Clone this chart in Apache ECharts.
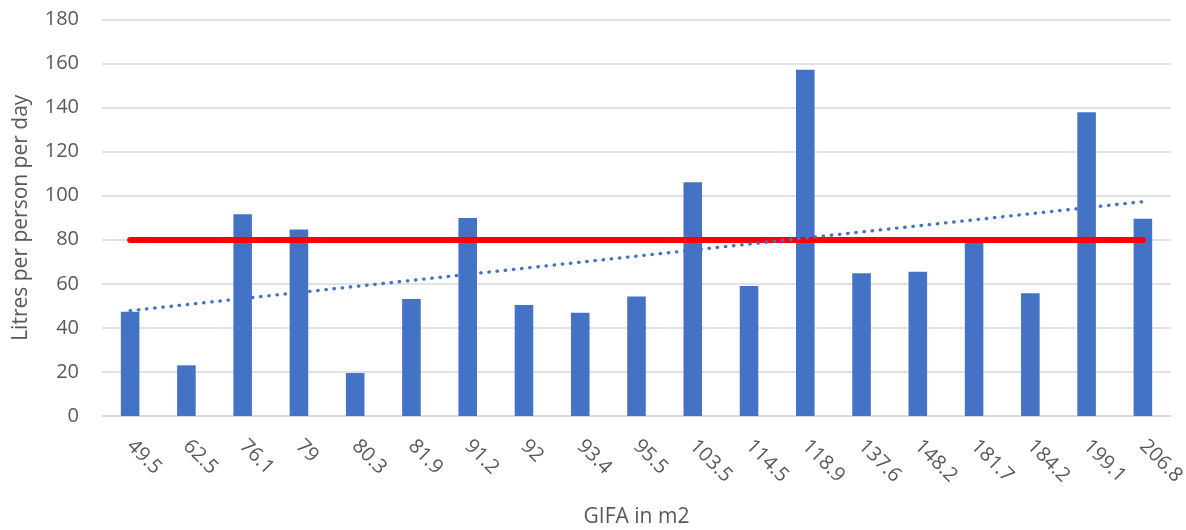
<!DOCTYPE html>
<html>
<head>
<meta charset="utf-8">
<script src="https://cdn.jsdelivr.net/npm/echarts@6/dist/echarts.min.js"></script>
<style>
html,body{margin:0;padding:0;background:#fff;}
#chart{width:1186px;height:530px;}
</style>
</head>
<body>
<div id="chart"></div>
<script>
// GIFA categories (m2)
const categories = ['49.5','62.5','76.1','79','80.3','81.9','91.2','92','93.4','95.5','103.5','114.5','118.9','137.6','148.2','181.7','184.2','199.1','206.8'];
// Litres per person per day
const litres = [47.3, 23.0, 91.6, 84.7, 19.5, 53.1, 89.9, 50.4, 46.9, 54.3, 106.1, 59.0, 157.2, 64.8, 65.5, 80.0, 55.7, 137.9, 89.6];
// Benchmark line value
const benchmark = 80;
// Linear trend line end values (first and last category)
const trendStart = 47.8;
const trendEnd = 97.3;
const yTicks = [0, 20, 40, 60, 80, 100, 120, 140, 160, 180];

const chart = echarts.init(document.getElementById('chart'));
const fontFamily = '"Open Sans", "Noto Sans", sans-serif';
const lastIdx = categories.length - 1;

chart.setOption({
  animation: false,
  backgroundColor: '#ffffff',
  grid: { left: 102, right: 15, top: 19.5, bottom: 114, containLabel: false, outerBoundsMode: 'none' },
  xAxis: {
    type: 'category',
    data: categories,
    name: 'GIFA in m2',
    nameLocation: 'middle',
    nameGap: 91,
    nameTextStyle: { color: '#595959', fontSize: 21, fontFamily: fontFamily },
    axisLine: { show: true, lineStyle: { color: '#d9d9d9', width: 1.5 } },
    axisTick: { show: false },
    axisLabel: { rotate: -45, margin: 27, color: '#595959', fontSize: 20, fontFamily: fontFamily, interval: 0 },
    splitLine: { show: false }
  },
  yAxis: {
    type: 'value',
    min: yTicks[0],
    max: yTicks[yTicks.length - 1],
    interval: 20,
    name: 'Litres per person per day',
    nameLocation: 'middle',
    nameGap: 70,
    nameTextStyle: { color: '#595959', fontSize: 21, fontFamily: fontFamily },
    axisLine: { show: false },
    axisTick: { show: false },
    axisLabel: { margin: 23, color: '#595959', fontSize: 20, fontFamily: fontFamily },
    splitLine: { lineStyle: { color: '#d9d9d9', width: 1.5 } }
  },
  series: [
    {
      type: 'bar',
      data: litres,
      barWidth: '33%',
      itemStyle: { color: '#4472c4' },
      z: 2,
      markLine: {
        silent: true,
        symbol: ['none', 'none'],
        label: { show: false },
        z: 5,
        data: [
          [
            { coord: [0, benchmark], lineStyle: { color: '#ff0000', width: 6, type: 'solid', cap: 'round' } },
            { coord: [lastIdx, benchmark] }
          ],
          [
            { coord: [0, trendStart], lineStyle: { color: '#4472c4', width: 3.3, type: [0.5, 7.7], cap: 'round' } },
            { coord: [lastIdx, trendEnd] }
          ]
        ]
      }
    }
  ]
});
</script>
</body>
</html>
